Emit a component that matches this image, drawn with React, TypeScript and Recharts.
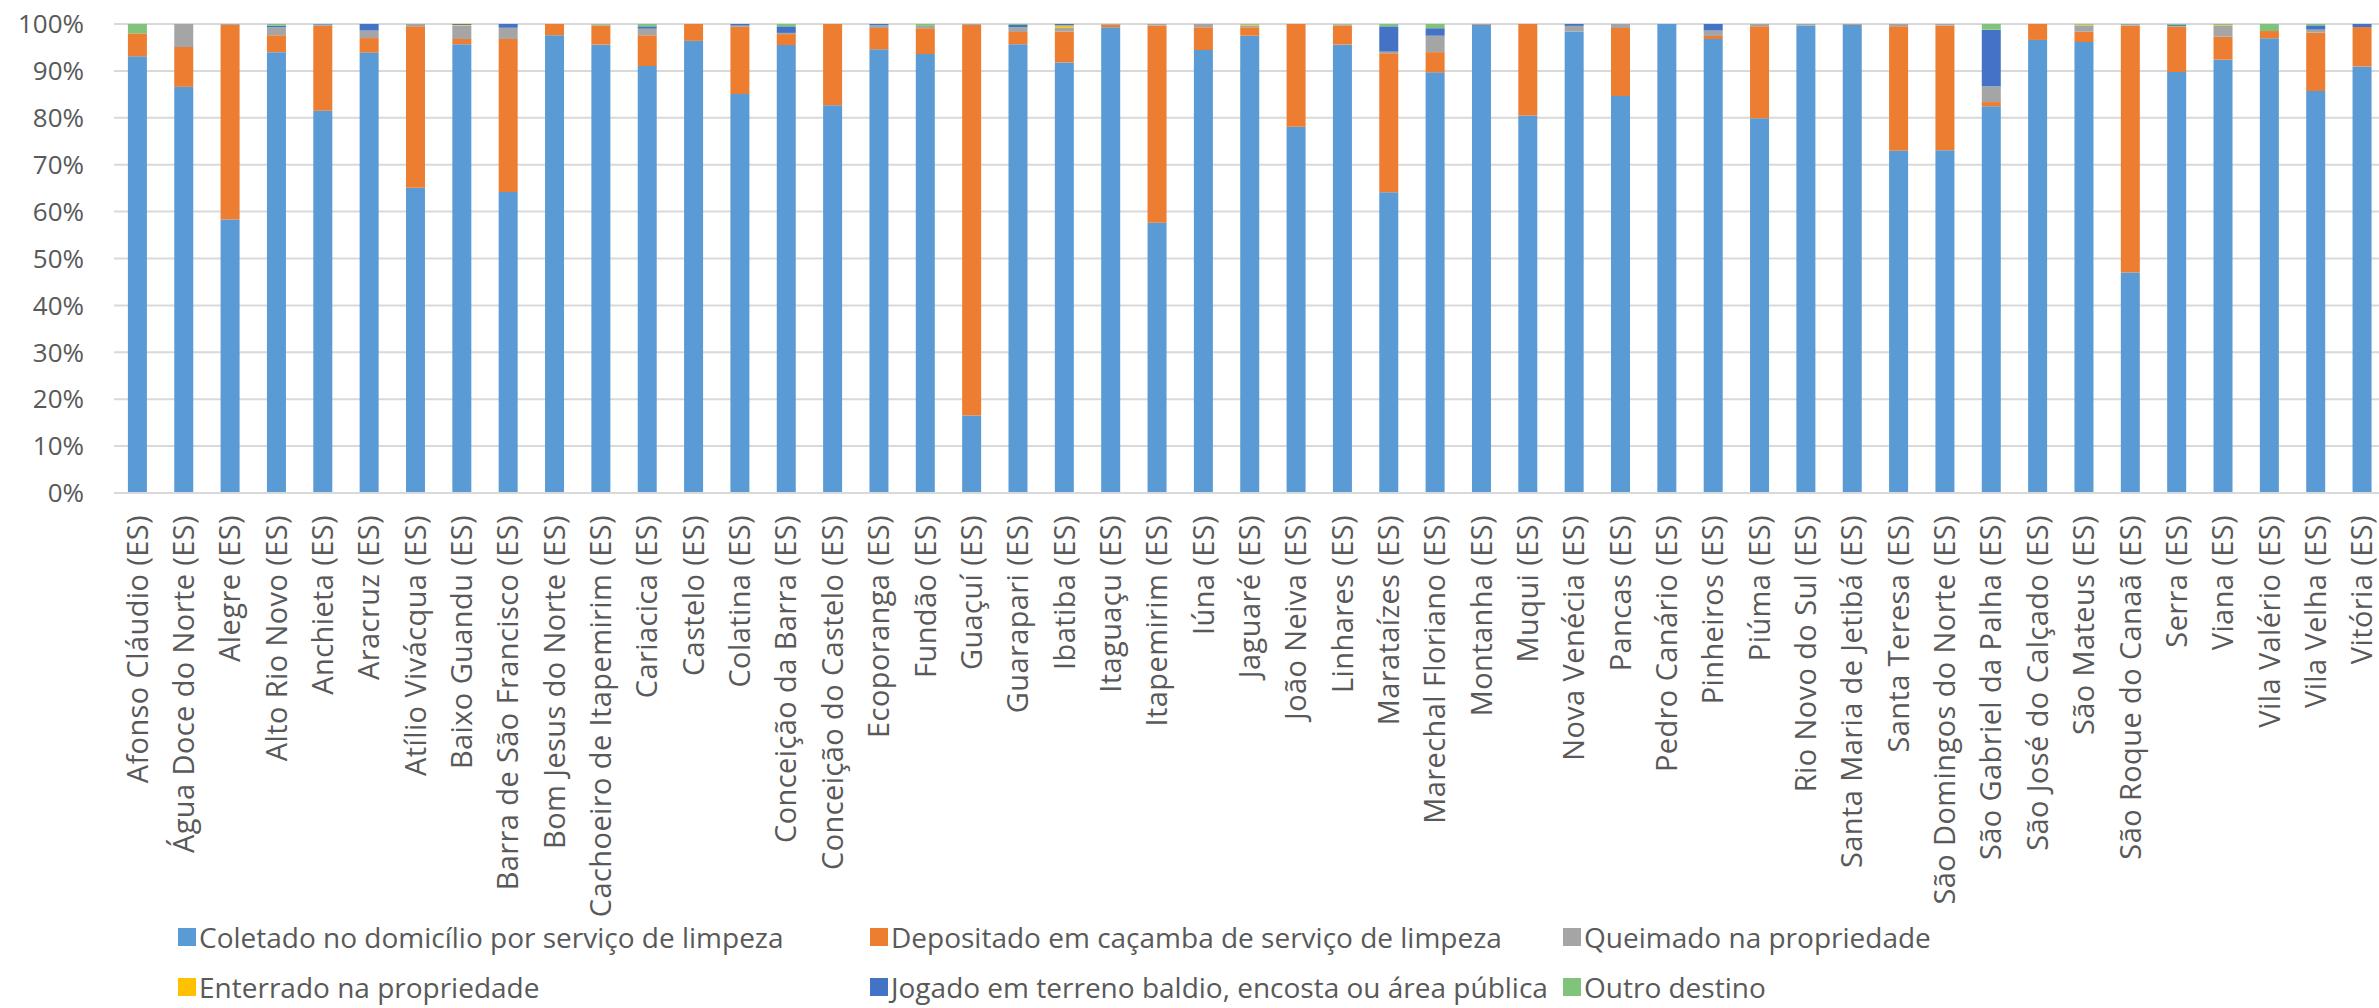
import React from 'react';
import { BarChart, Bar, XAxis, YAxis, CartesianGrid } from 'recharts';

document.body.style.margin = '0';

const municipios = [
  'Afonso Cláudio (ES)', 'Água Doce do Norte (ES)', 'Alegre (ES)', 'Alto Rio Novo (ES)', 'Anchieta (ES)',
  'Aracruz (ES)', 'Atílio Vivácqua (ES)', 'Baixo Guandu (ES)', 'Barra de São Francisco (ES)', 'Bom Jesus do Norte (ES)',
  'Cachoeiro de Itapemirim (ES)', 'Cariacica (ES)', 'Castelo (ES)', 'Colatina (ES)', 'Conceição da Barra (ES)',
  'Conceição do Castelo (ES)', 'Ecoporanga (ES)', 'Fundão (ES)', 'Guaçuí (ES)', 'Guarapari (ES)',
  'Ibatiba (ES)', 'Itaguaçu (ES)', 'Itapemirim (ES)', 'Iúna (ES)', 'Jaguaré (ES)',
  'João Neiva (ES)', 'Linhares (ES)', 'Marataízes (ES)', 'Marechal Floriano (ES)', 'Montanha (ES)',
  'Muqui (ES)', 'Nova Venécia (ES)', 'Pancas (ES)', 'Pedro Canário (ES)', 'Pinheiros (ES)',
  'Piúma (ES)', 'Rio Novo do Sul (ES)', 'Santa Maria de Jetibá (ES)', 'Santa Teresa (ES)', 'São Domingos do Norte (ES)',
  'São Gabriel da Palha (ES)', 'São José do Calçado (ES)', 'São Mateus (ES)', 'São Roque do Canaã (ES)', 'Serra (ES)',
  'Viana (ES)', 'Vila Valério (ES)', 'Vila Velha (ES)', 'Vitória (ES)',
];

// percentages per municipality, same order as above
const coletado = [
  93.1, 86.6, 58.3, 94.0, 81.5, 93.9, 65.1, 95.7, 64.2, 97.6,
  95.6, 91.05, 96.4, 85.1, 95.5, 82.65, 94.6, 93.6, 16.5, 95.7,
  91.8, 99.3, 57.6, 94.45, 97.5, 78.1, 95.6, 64.1, 89.7, 99.9,
  80.5, 98.4, 84.65, 100, 96.8, 79.9, 99.7, 99.9, 73.0, 73.1,
  82.45, 96.6, 96.15, 47.0, 89.75, 92.4, 96.95, 85.7, 90.95,
];
const cacamba = [
  4.9, 8.5, 41.5, 3.6, 18.1, 3.1, 34.4, 1.1, 32.6, 2.4,
  4.1, 6.55, 3.6, 14.3, 2.35, 17.35, 4.55, 5.5, 83.3, 2.6,
  6.6, 0.6, 42.1, 4.85, 1.8, 21.9, 4.1, 29.65, 4.3, 0.1,
  19.5, 0, 14.5, 0, 0.65, 19.6, 0, 0.1, 26.5, 26.55,
  0.9, 3.4, 2.2, 52.65, 9.65, 4.9, 1.55, 12.45, 8.4,
];
const queimado = [
  0, 4.9, 0.2, 1.7, 0.3, 1.6, 0.5, 2.85, 2.4, 0,
  0.15, 1.4, 0, 0.25, 0.25, 0, 0.6, 0.5, 0.2, 1.0,
  0.85, 0.1, 0.3, 0.7, 0.4, 0, 0.2, 0.35, 3.5, 0,
  0, 1.2, 0.85, 0, 1.15, 0.5, 0.3, 0, 0.5, 0.35,
  3.3, 0, 1.35, 0.35, 0.2, 2.4, 0, 0.65, 0,
];
const enterrado = [
  0, 0, 0, 0, 0, 0, 0, 0.15, 0, 0,
  0, 0, 0, 0, 0, 0, 0, 0, 0, 0,
  0.45, 0, 0, 0, 0.15, 0, 0, 0, 0, 0,
  0, 0, 0, 0, 0, 0, 0, 0, 0, 0,
  0, 0, 0.15, 0, 0, 0.1, 0, 0, 0,
];
const jogado = [
  0, 0, 0, 0.35, 0.1, 1.4, 0, 0.2, 0.8, 0,
  0, 0.5, 0, 0.35, 1.4, 0, 0.25, 0, 0, 0.5,
  0.3, 0, 0, 0, 0, 0, 0, 5.4, 1.6, 0,
  0, 0.4, 0, 0, 1.4, 0, 0, 0, 0, 0,
  12.15, 0, 0, 0, 0.2, 0, 0, 0.9, 0.65,
];
const outro = [
  2.0, 0, 0, 0.35, 0, 0, 0, 0, 0, 0,
  0.15, 0.5, 0, 0, 0.5, 0, 0, 0.4, 0, 0.2,
  0, 0, 0, 0, 0.15, 0, 0.1, 0.5, 0.9, 0,
  0, 0, 0, 0, 0, 0, 0, 0, 0, 0,
  1.2, 0, 0.15, 0, 0.2, 0.2, 1.5, 0.3, 0,
];

const series = [
  { key: 'coletado', name: 'Coletado no domicílio por serviço de limpeza', color: '#5B9BD5', values: coletado },
  { key: 'cacamba', name: 'Depositado em caçamba de serviço de limpeza', color: '#ED7D31', values: cacamba },
  { key: 'queimado', name: 'Queimado na propriedade', color: '#A5A5A5', values: queimado },
  { key: 'enterrado', name: 'Enterrado na propriedade', color: '#FFC000', values: enterrado },
  { key: 'jogado', name: 'Jogado em terreno baldio, encosta ou área pública', color: '#4472C4', values: jogado },
  { key: 'outro', name: 'Outro destino', color: '#80C47C', values: outro },
];

const yTicks = [0, 0.1, 0.2, 0.3, 0.4, 0.5, 0.6, 0.7, 0.8, 0.9, 1];

const data = municipios.map((m, i) => {
  const row: Record<string, string | number> = { municipio: m };
  series.forEach((s) => {
    row[s.key] = s.values[i];
  });
  return row;
});

const FONT = "'Open Sans', 'Noto Sans', sans-serif";
const TEXT = '#595959';

function CategoryTick({ x, y, payload }: any) {
  const ty = y + 14;
  return (
    <text
      x={x}
      y={ty}
      transform={`rotate(-90, ${x}, ${ty})`}
      textAnchor="end"
      dy="0.36em"
      fontSize={29}
      letterSpacing={0.4}
      fontFamily={FONT}
      fill={TEXT}
    >
      {payload.value}
    </text>
  );
}

// legend columns / rows in page pixels
const legendCols = [178, 870, 1563];
const legendRows = [937, 987];

function LegendBlock() {
  return (
    <>
      {series.map((s, i) => (
        <div
          key={s.key}
          style={{
            position: 'absolute',
            left: legendCols[i % 3],
            top: legendRows[Math.floor(i / 3)] - 15,
            height: 30,
            display: 'flex',
            alignItems: 'center',
            whiteSpace: 'nowrap',
          }}
        >
          <span style={{ width: 18, height: 18, background: s.color, marginRight: 3 }} />
          <span style={{ fontSize: 28, lineHeight: '30px', color: TEXT, fontFamily: FONT }}>{s.name}</span>
        </div>
      ))}
    </>
  );
}

export default function App() {
  return (
    <div style={{ position: 'relative', width: 2379, height: 1008, overflow: 'hidden', background: '#fff' }}>
      <BarChart
        width={2390}
        height={1008}
        data={data}
        stackOffset="expand"
        barCategoryGap="30%"
        margin={{ top: 24, right: 5, bottom: 0, left: 0 }}
      >
        <CartesianGrid vertical={false} stroke="#d9d9d9" strokeWidth={2} />
        <XAxis
          dataKey="municipio"
          interval={0}
          height={515}
          tickLine={false}
          axisLine={{ stroke: '#d9d9d9', strokeWidth: 2 }}
          tick={<CategoryTick />}
        />
        <YAxis
          width={114}
          domain={[0, 1]}
          ticks={yTicks}
          tickFormatter={(v: number) => `${Math.round(v * 100)}%`}
          axisLine={false}
          tickLine={false}
          tickSize={6}
          tickMargin={24}
          tick={{ fill: TEXT, fontSize: 26, fontFamily: FONT }}
        />
        {series.map((s) => (
          <Bar
            key={s.key}
            dataKey={s.key}
            name={s.name}
            stackId="a"
            fill={s.color}
            isAnimationActive={false}
          />
        ))}
      </BarChart>
      <LegendBlock />
    </div>
  );
}
